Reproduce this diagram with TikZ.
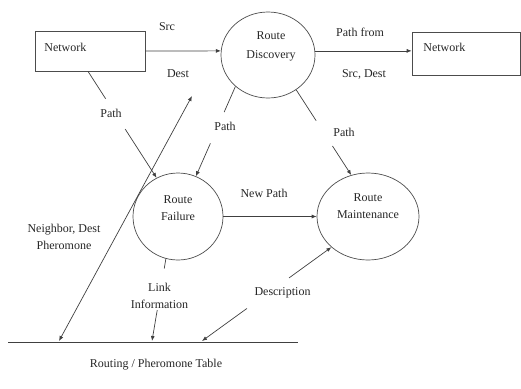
\documentclass[tikz,border=0pt]{standalone}
\usepackage{fontspec}
\setmainfont{Liberation Serif}
\usetikzlibrary{shapes.geometric,arrows.meta}
\begin{document}
\begin{tikzpicture}[x=1pt,y=-1pt, line width=0.7pt,
 every node/.style={font=\fontsize{12}{17}\selectfont, text=black!85},
 conn/.style={draw=black!75, -{Latex[length=5pt,width=4pt]}},
 both/.style={draw=black!75, {Latex[length=5pt,width=4pt]}-{Latex[length=5pt,width=4pt]}},
 proc/.style={ellipse, draw=black!70, inner sep=0pt},
 ent/.style={rectangle, draw=black!70, inner sep=0pt},
 gapc/.style={circle, fill=white, inner sep=0pt},
 lab/.style={inner sep=1pt, align=center}]
\useasboundingbox (0,0) rectangle (521,388);

% entities and processes
\node[ent, minimum width=110pt, minimum height=40pt] (net1) at (90,51) {};
\node[ent, minimum width=108pt, minimum height=43pt] (net2) at (466,53.5) {};
\node[proc, minimum width=94pt, minimum height=86pt] (rd) at (268,55) {};
\node[proc, minimum width=90pt, minimum height=87pt] (rf) at (178,216.5) {};
\node[proc, minimum width=102pt, minimum height=87pt] (rm) at (368,216.5) {};

% data store line
\coordinate (tl) at (8,342);
\coordinate (tr) at (298,342);
\draw[draw=black!75] (tl) -- (tr);

\coordinate (dtop) at (192,96);
\coordinate (dbot) at (59,341);
\coordinate (lbot) at (152,341);
\coordinate (dsbot) at (202,341);

% connectors
\draw[conn] (net1.east) -- (rd.175);
\draw[conn] (rd.5) -- (rd.5 -| net2.west);
\draw[conn] ([xshift=-2pt]net1.south) -- node[gapc, pos=0.40, minimum size=36pt] (g1) {} (rf.119);
\draw[conn] (rd.224) -- node[gapc, pos=0.46, minimum size=34pt] (g2) {} (rf.66);
\draw[conn] (rd.309) -- node[gapc, pos=0.51, minimum size=30pt] (g3) {} (rm.112);
\draw[conn] (rf.east) -- (rm.west);
\draw[both] (dbot) -- (dtop);
\draw[conn] (rf.254) -- node[gapc, pos=0.37, minimum size=42pt] (g4) {} (lbot);
\draw[both] (rm.220) -- node[gapc, pos=0.49, minimum size=52pt] (g5) {} (dsbot);

% texts
\node[lab, anchor=west] (t1) at (43,47) {Network};
\node[lab, anchor=west] (t2) at (422,47) {Network};
\node[lab] (trd) at (271,46) {Route\\[2pt]Discovery};
\node[lab] (trf) at (178,208.5) {Route\\Failure};
\node[lab] (trm) at (368,206.5) {Route\\Maintenance};
\node[lab] (lsrc) at (167,27) {Src};
\node[lab] (lpf) at (360,32) {Path from};
\node[lab] (lsd) at (364,74) {Src, Dest};
\node[lab] (ldest) at (178,74) {Dest};
\node[lab] (lp1) at (111,113) {Path};
\node[lab] (lp2) at (225,126) {Path};
\node[lab] (lp3) at (344,132) {Path};
\node[lab] (lnp) at (264,193) {New Path};
\node[lab] (lnd) at (64,236.5) {Neighbor, Dest\\Pheromone};
\node[lab] (lli) at (159.5,295.5) {Link\\Information};
\node[lab] (ldesc) at (282.5,293) {Description};
\node[lab] (ltab) at (156,365) {Routing / Pheromone Table};
\end{tikzpicture}
\end{document}
